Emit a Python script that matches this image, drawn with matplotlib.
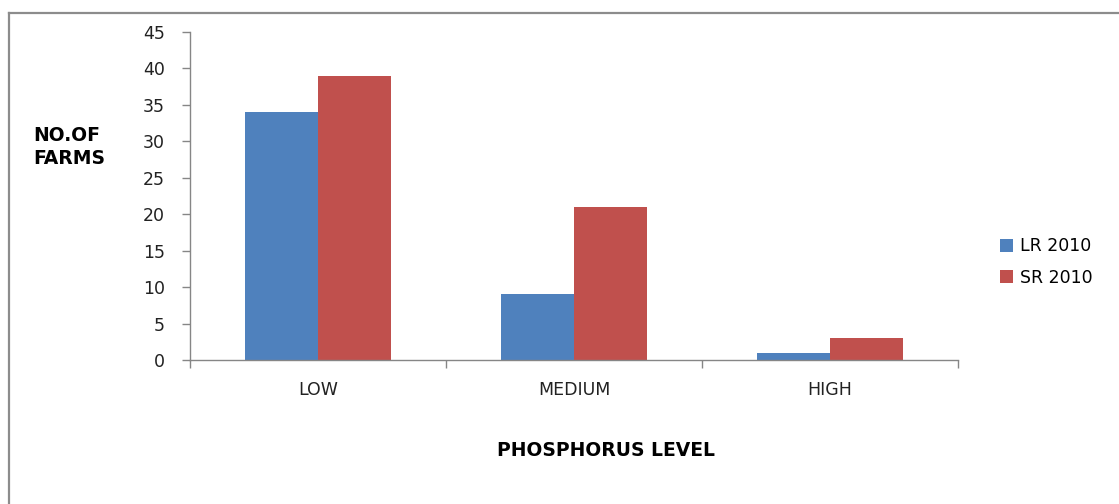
import matplotlib.pyplot as plt
import numpy as np
from matplotlib.lines import Line2D

# Number of farms per phosphorus level
categories = ['LOW', 'MEDIUM', 'HIGH']
lr_2010 = [34, 9, 1]
sr_2010 = [39, 21, 3]
series_names = ['LR 2010', 'SR 2010']
y_ticks = [0, 5, 10, 15, 20, 25, 30, 35, 40, 45]

blue = '#4F81BD'
red = '#C0504D'
axis_grey = '#868686'

fig = plt.figure(figsize=(11.19, 5.04), dpi=100)
ax = fig.add_axes([190 / 1119, 1 - 360 / 504, 768 / 1119, 328 / 504])

x = np.arange(len(categories))
w = 0.285
ax.bar(x - w / 2, lr_2010, width=w, color=blue, label=series_names[0])
ax.bar(x + w / 2, sr_2010, width=w, color=red, label=series_names[1])

ax.set_xlim(-0.5, len(categories) - 0.5)
ax.set_ylim(0, 45)
ax.set_yticks(y_ticks)

# tick marks on category boundaries, labels in the middle
ax.set_xticks(np.arange(len(categories) + 1) - 0.5)
ax.set_xticklabels([])
ax.set_xticks(x, minor=True)
ax.set_xticklabels(categories, minor=True)
ax.tick_params(axis='x', which='major', direction='out', length=6,
               color=axis_grey, width=1)
ax.tick_params(axis='x', which='minor', length=0, pad=15,
               labelsize=12.5, labelcolor='#222222')
ax.tick_params(axis='y', direction='out', length=6, color=axis_grey,
               width=1, pad=12, labelsize=12.5, labelcolor='#222222')

for s in ['top', 'right']:
    ax.spines[s].set_visible(False)
for s in ['left', 'bottom']:
    ax.spines[s].set_color(axis_grey)
    ax.spines[s].set_linewidth(1)

fig.text(33 / 1119, 1 - 147 / 504, 'NO.OF\nFARMS', fontsize=13.5,
         fontweight='bold', ha='left', va='center', linespacing=1.3)
fig.text(606 / 1119, 1 - 450 / 504, 'PHOSPHORUS LEVEL', fontsize=13.5,
         fontweight='bold', ha='center', va='center')

ax.legend(loc='center left', bbox_to_anchor=(984 / 1119, 1 - 262 / 504),
          bbox_transform=fig.transFigure, frameon=False, fontsize=12.5,
          handlelength=0.75, handleheight=0.75, handletextpad=0.45,
          labelspacing=0.75)

# outer chart frame (top and left edge)
fig.add_artist(Line2D([9 / 1119, 1], [1 - 13 / 504, 1 - 13 / 504],
                      transform=fig.transFigure, color='#8c8c8c', lw=1.6))
fig.add_artist(Line2D([9 / 1119, 9 / 1119], [0, 1 - 13 / 504],
                      transform=fig.transFigure, color='#8c8c8c', lw=1.6))

fig.savefig('out.png', dpi=100)
